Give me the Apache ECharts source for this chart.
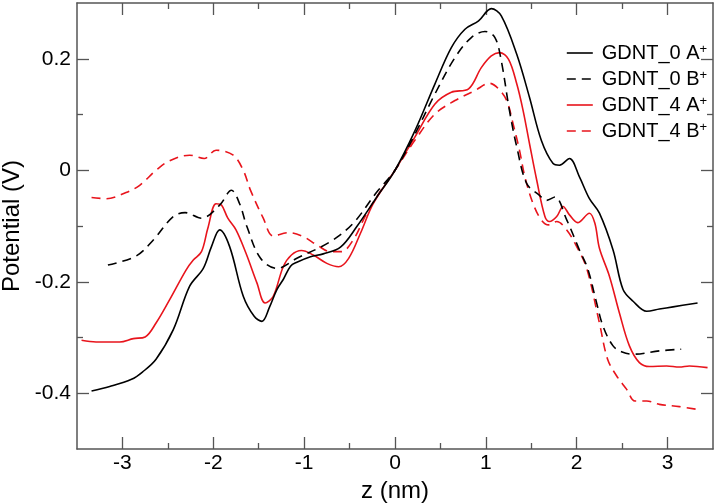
<!DOCTYPE html>
<html>
<head>
<meta charset="utf-8">
<script src="https://cdn.jsdelivr.net/npm/echarts@6/dist/echarts.min.js"></script>
<style>
html,body{margin:0;padding:0;background:#fff;}
#c{width:717px;height:504px;}
</style>
</head>
<body>
<div id="c"></div>
<script>
// ---- data ----
const seriesNames = ['GDNT_0 A+', 'GDNT_0 B+', 'GDNT_4 A+', 'GDNT_4 B+'];

const z_0A = [-3.34,-3.14,-2.90,-2.78,-2.63,-2.44,-2.26,-2.11,-2.02,-1.93,-1.82,-1.67,-1.55,-1.465,-1.38,-1.30,-1.23,-1.15,-1.08,-0.93,-0.79,-0.60,-0.42,-0.20,0,0.22,0.44,0.62,0.77,0.92,1.06,1.17,1.34,1.48,1.61,1.74,1.81,1.92,2.03,2.14,2.25,2.40,2.51,2.62,2.77,2.91,3.06,3.33];
const v_0A = [-0.396,-0.388,-0.375,-0.362,-0.339,-0.286,-0.208,-0.176,-0.137,-0.107,-0.137,-0.226,-0.262,-0.271,-0.245,-0.214,-0.196,-0.172,-0.165,-0.155,-0.150,-0.138,-0.101,-0.048,0,0.071,0.155,0.220,0.253,0.268,0.290,0.277,0.208,0.131,0.054,0.012,0.009,0.021,-0.012,-0.051,-0.077,-0.143,-0.214,-0.235,-0.253,-0.249,-0.245,-0.238];

const z_0B = [-3.16,-2.85,-2.66,-2.44,-2.31,-2.13,-1.93,-1.80,-1.71,-1.63,-1.48,-1.30,-1.08,-0.71,-0.46,-0.20,0,0.22,0.44,0.66,0.84,0.99,1.10,1.17,1.26,1.34,1.45,1.59,1.67,1.76,1.89,2.03,2.12,2.21,2.29,2.40,2.50,2.62,2.91,3.15];
const v_0B = [-0.170,-0.154,-0.125,-0.083,-0.076,-0.086,-0.0625,-0.036,-0.060,-0.101,-0.158,-0.176,-0.158,-0.128,-0.095,-0.039,0,0.065,0.137,0.202,0.238,0.249,0.238,0.196,0.107,0.042,-0.024,-0.045,-0.054,-0.048,-0.089,-0.143,-0.176,-0.232,-0.280,-0.315,-0.326,-0.330,-0.324,-0.321];

const z_4A = [-3.45,-3.29,-3.03,-2.88,-2.75,-2.63,-2.48,-2.30,-2.22,-2.13,-2.06,-1.97,-1.91,-1.84,-1.75,-1.64,-1.52,-1.43,-1.34,-1.23,-1.14,-1.03,-0.90,-0.75,-0.62,-0.51,-0.38,-0.24,0,0.22,0.44,0.62,0.81,0.95,1.06,1.15,1.25,1.34,1.41,1.48,1.56,1.65,1.70,1.78,1.85,1.92,2.01,2.14,2.20,2.25,2.36,2.47,2.58,2.69,2.80,2.99,3.13,3.24,3.44];
const v_4A = [-0.305,-0.308,-0.308,-0.302,-0.299,-0.274,-0.232,-0.179,-0.161,-0.146,-0.104,-0.060,-0.0625,-0.086,-0.107,-0.149,-0.202,-0.238,-0.226,-0.173,-0.152,-0.144,-0.152,-0.167,-0.173,-0.158,-0.113,-0.060,0,0.060,0.119,0.140,0.146,0.184,0.205,0.211,0.199,0.155,0.107,0.048,-0.018,-0.083,-0.092,-0.083,-0.065,-0.080,-0.094,-0.077,-0.095,-0.140,-0.190,-0.256,-0.315,-0.345,-0.352,-0.351,-0.353,-0.351,-0.354];

const z_4B = [-3.34,-3.18,-2.96,-2.81,-2.63,-2.48,-2.26,-2.10,-1.97,-1.78,-1.67,-1.59,-1.45,-1.34,-1.17,-1.01,-0.86,-0.71,-0.59,-0.46,-0.31,-0.13,0,0.22,0.44,0.66,0.88,1.04,1.14,1.23,1.30,1.37,1.43,1.52,1.61,1.69,1.78,1.89,2.00,2.11,2.25,2.34,2.44,2.55,2.64,2.77,2.91,3.13,3.33];
const v_4B = [-0.049,-0.051,-0.040,-0.027,0.000,0.017,0.027,0.021,0.036,0.027,0.000,-0.036,-0.086,-0.118,-0.112,-0.119,-0.134,-0.146,-0.146,-0.125,-0.077,-0.030,0,0.054,0.101,0.125,0.143,0.156,0.146,0.125,0.083,0.036,-0.012,-0.060,-0.089,-0.098,-0.092,-0.107,-0.137,-0.176,-0.274,-0.339,-0.369,-0.393,-0.414,-0.414,-0.420,-0.424,-0.429];

const xMajorTicks = [-3, -2, -1, 0, 1, 2, 3];
const xMinorTicks = [-2.5, -1.5, -0.5, 0.5, 1.5, 2.5];
const yMajorTicks = [-0.4, -0.2, 0, 0.2];
const yMinorTicks = [-0.3, -0.1, 0.1];

// ---- chart ----
const FONT = "'Liberation Sans', Arial, Helvetica, sans-serif";
const AX = '#555';
const RED = '#e8141c';

function zip(xs, ys) { return xs.map((x, i) => [x, ys[i]]); }

function xAx(pos, ticks, len, labels, lineShow, name) {
  return {
    type: 'value', position: pos, min: -3.5, max: 3.5,
    name: name || '', nameLocation: 'middle', nameGap: 22,
    nameTextStyle: { fontFamily: FONT, fontSize: 24, color: '#000' },
    axisLine: { show: lineShow, onZero: false, lineStyle: { color: AX, width: 1.5 } },
    axisTick: { show: true, inside: true, length: len, customValues: ticks, lineStyle: { color: AX, width: 1.3 } },
    axisLabel: labels ? { show: true, customValues: ticks, margin: 4, fontFamily: FONT, fontSize: 21, color: '#000', formatter: v => String(v) } : { show: false },
    splitLine: { show: false }
  };
}
function yAx(pos, ticks, len, labels, lineShow, name) {
  return {
    type: 'value', position: pos, min: -0.5, max: 0.3,
    name: name || '', nameLocation: 'middle', nameGap: 48,
    nameTextStyle: { fontFamily: FONT, fontSize: 24, color: '#000' },
    axisLine: { show: lineShow, onZero: false, lineStyle: { color: AX, width: 1.5 } },
    axisTick: { show: true, inside: true, length: len, customValues: ticks, lineStyle: { color: AX, width: 1.3 } },
    axisLabel: labels ? { show: true, customValues: ticks, margin: 6, fontFamily: FONT, fontSize: 21, color: '#000', formatter: v => String(+v.toFixed(1)) } : { show: false },
    splitLine: { show: false }
  };
}

const styles = [
  { color: '#000', type: 'solid' },
  { color: '#000', type: [9, 6] },
  { color: RED, type: 'solid' },
  { color: RED, type: [9, 6] }
];
const dataSets = [zip(z_0A, v_0A), zip(z_0B, v_0B), zip(z_4A, v_4A), zip(z_4B, v_4B)];

const chart = echarts.init(document.getElementById('c'), null, { renderer: 'canvas' });
chart.setOption({
  animation: false,
  backgroundColor: '#fff',
  grid: { left: 77, right: 4, top: 3, bottom: 55, containLabel: false, outerBoundsMode: 'none' },
  xAxis: [
    xAx('bottom', xMajorTicks, 12, true, true, 'z (nm)'),
    xAx('bottom', xMinorTicks, 6, false, false),
    xAx('top', xMajorTicks, 12, false, true),
    xAx('top', xMinorTicks, 6, false, false)
  ],
  yAxis: [
    yAx('left', yMajorTicks, 12, true, true, 'Potential (V)'),
    yAx('left', yMinorTicks, 6, false, false),
    yAx('right', yMajorTicks, 12, false, true),
    yAx('right', yMinorTicks, 6, false, false)
  ],
  legend: {
    orient: 'vertical', left: 561, top: 38,
    itemWidth: 26, itemHeight: 14, itemGap: 6,
    data: seriesNames.map((n, i) => ({
      name: n,
      itemStyle: { opacity: 0 },
      lineStyle: { color: styles[i].color, width: 1.6, type: styles[i].type, opacity: 1 }
    })),
    textStyle: {
      fontFamily: FONT, fontSize: 20, color: '#000', lineHeight: 20, padding: [0, 0, 0, 4],
      rich: { s: { fontFamily: FONT, fontSize: 13, lineHeight: 2, verticalAlign: 'top', color: '#000' } }
    },
    formatter: n => n.replace('+', '{s|+}')
  },
  series: seriesNames.map((n, i) => ({
    name: n, type: 'line', xAxisIndex: 0, yAxisIndex: 0,
    data: dataSets[i], smooth: 0.35, symbol: 'none', showSymbol: false,
    lineStyle: { color: styles[i].color, width: 1.6, type: styles[i].type },
    itemStyle: { color: styles[i].color },
    z: 4 - i
  }))
});
</script>
</body>
</html>
